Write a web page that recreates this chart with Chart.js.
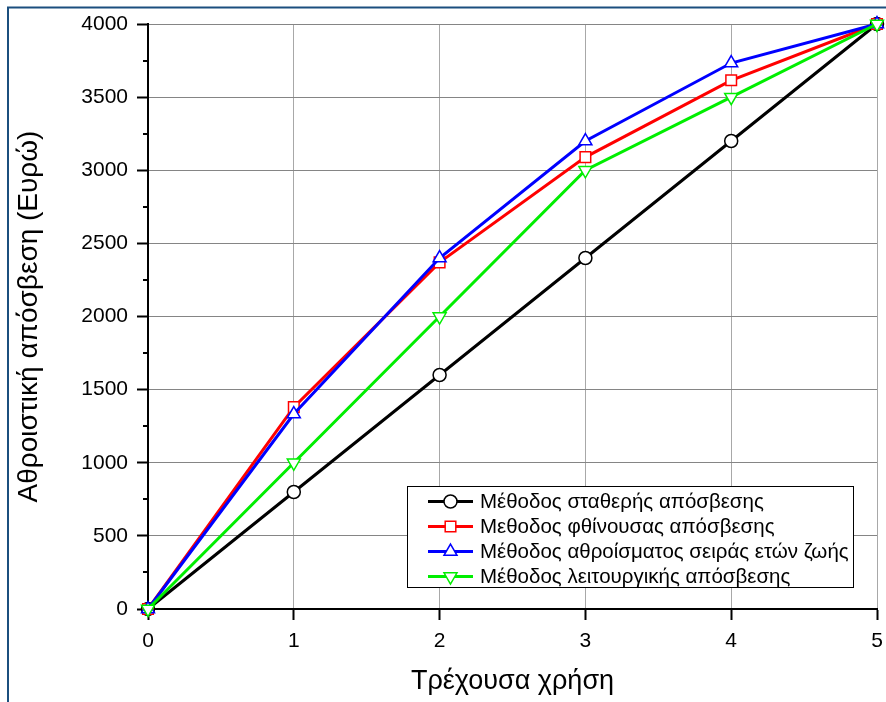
<!DOCTYPE html>
<html lang="el">
<head>
    <meta charset="UTF-8">
    <title>Αθροιστική απόσβεση</title>
    <script src="https://cdn.jsdelivr.net/npm/chart.js"></script>
    <style>
        html, body { margin: 0; padding: 0; background: #fff; }
        #wrap { width: 886px; height: 702px; }
    </style>
</head>
<body>
<div id="wrap">
    <canvas id="deprChart" width="886" height="702"></canvas>
</div>

<script>
    // years of use and cumulative depreciation per method (euros)
    const years = [0, 1, 2, 3, 4, 5];
    const straightLine = [0, 800, 1600, 2400, 3200, 4000];
    const decliningBalance = [0, 1380, 2370, 3090, 3615, 4000];
    const sumOfYears = [0, 1333, 2400, 3200, 3733, 4000];
    const unitsOfActivity = [0, 1000, 2000, 3000, 3500, 4000];

    const seriesLabels = [
        'Μέθοδος σταθερής απόσβεσης',
        'Μεθοδος φθίνουσας απόσβεσης',
        'Μέθοδος αθροίσματος σειράς ετών ζωής',
        'Μέθοδος λειτουργικής απόσβεσης'
    ];
    const seriesColors = ['#000000', '#ff0000', '#0000ff', '#00ee00'];
    const seriesPoints = ['circle', 'rect', 'triangle', 'triangle'];

    const xTicks = [0, 1, 2, 3, 4, 5];
    const yTicks = [0, 500, 1000, 1500, 2000, 2500, 3000, 3500, 4000];

    const FONT = "'Liberation Sans', Arial, sans-serif";

    function toPoints(values) {
        return years.map((yr, i) => ({ x: yr, y: values[i] }));
    }

    function makeSet(idx, values, opts) {
        return Object.assign({
            label: seriesLabels[idx],
            data: toPoints(values),
            borderColor: seriesColors[idx],
            backgroundColor: '#ffffff',
            borderWidth: 3,
            pointStyle: seriesPoints[idx],
            pointRadius: 6.5,
            pointBorderWidth: 1.5,
            pointBorderColor: seriesColors[idx],
            pointBackgroundColor: '#ffffff',
            tension: 0,
            fill: false,
            clip: false
        }, opts);
    }

    const datasets = [
        makeSet(0, straightLine, { order: 4 }),
        makeSet(1, decliningBalance, { order: 3, pointRadius: 7.5 }),
        makeSet(2, sumOfYears, { order: 2, pointRadius: 7.5 }),
        makeSet(3, unitsOfActivity, { order: 1, pointRadius: 7.5, pointRotation: 180 })
    ];

    // dark frame on the top and left edge of the figure
    const framePlugin = {
        id: 'frame',
        beforeDraw(chart) {
            const ctx = chart.ctx;
            ctx.save();
            ctx.fillStyle = '#ffffff';
            ctx.fillRect(0, 0, chart.width, chart.height);
            ctx.strokeStyle = '#1b4f7e';
            ctx.lineWidth = 2;
            ctx.beginPath();
            ctx.moveTo(8, chart.height);
            ctx.lineTo(8, 7.5);
            ctx.lineTo(chart.width, 7.5);
            ctx.stroke();
            ctx.restore();
        }
    };

    // short minor ticks between the labelled y values
    const minorTicksPlugin = {
        id: 'minorTicks',
        afterDraw(chart) {
            const ctx = chart.ctx;
            const y = chart.scales.y;
            const x0 = chart.chartArea.left;
            ctx.save();
            ctx.strokeStyle = '#000';
            ctx.lineWidth = 2;
            for (let i = 0; i < yTicks.length - 1; i++) {
                const v = (yTicks[i] + yTicks[i + 1]) / 2;
                const py = Math.round(y.getPixelForValue(v));
                ctx.beginPath();
                ctx.moveTo(x0 - 5, py);
                ctx.lineTo(x0, py);
                ctx.stroke();
            }
            ctx.restore();
        }
    };

    // boxed legend inside the plot, lower right
    const boxLegendPlugin = {
        id: 'boxLegend',
        afterDraw(chart) {
            const ctx = chart.ctx;
            const box = { left: 407, top: 486, right: 853, bottom: 587 };
            ctx.save();
            ctx.fillStyle = '#ffffff';
            ctx.fillRect(box.left, box.top, box.right - box.left, box.bottom - box.top);
            ctx.strokeStyle = '#000';
            ctx.lineWidth = 1;
            ctx.strokeRect(box.left + 0.5, box.top + 0.5, box.right - box.left, box.bottom - box.top);

            chart.data.datasets.forEach((ds, i) => {
                const cy = box.top + 15.5 + i * 25;
                ctx.strokeStyle = ds.borderColor;
                ctx.lineWidth = 3;
                ctx.beginPath();
                ctx.moveTo(428, cy);
                ctx.lineTo(473, cy);
                ctx.stroke();
                ctx.fillStyle = '#ffffff';
                ctx.strokeStyle = ds.borderColor;
                ctx.lineWidth = 1.5;
                Chart.helpers.drawPoint(ctx, {
                    pointStyle: ds.pointStyle,
                    rotation: ds.pointRotation || 0,
                    radius: ds.pointRadius,
                    borderWidth: 1.5
                }, 450.5, cy);
                ctx.fillStyle = '#000';
                ctx.font = '20.5px ' + FONT;
                ctx.textAlign = 'left';
                ctx.textBaseline = 'middle';
                ctx.fillText(ds.label, 480, cy + 1);
            });
            ctx.restore();
        }
    };

    const ctx = document.getElementById('deprChart').getContext('2d');
    const deprChart = new Chart(ctx, {
        type: 'line',
        data: { datasets: datasets },
        options: {
            responsive: false,
            animation: false,
            layout: { padding: { left: 0, top: 24, right: 0, bottom: 0 } },
            plugins: {
                legend: { display: false },
                tooltip: { enabled: false }
            },
            scales: {
                x: {
                    type: 'linear',
                    min: xTicks[0],
                    max: xTicks[xTicks.length - 1],
                    afterFit: s => {
                        s.height = 93;
                        s.paddingLeft = 0;
                        s.paddingRight = 8;
                    },
                    afterBuildTicks: s => { s.ticks = xTicks.map(v => ({ value: v })); },
                    border: { color: '#000', width: 2 },
                    grid: {
                        color: '#a8a8a8',
                        lineWidth: 1,
                        tickColor: '#000',
                        tickWidth: 2,
                        tickLength: 11
                    },
                    ticks: {
                        color: '#000',
                        padding: 9,
                        font: { family: FONT, size: 21 },
                        maxRotation: 0,
                        callback: v => String(v)
                    },
                    title: {
                        display: true,
                        text: 'Τρέχουσα χρήση',
                        color: '#000',
                        font: { family: FONT, size: 27 },
                        padding: { top: 0, bottom: 4 }
                    }
                },
                y: {
                    min: yTicks[0],
                    max: yTicks[yTicks.length - 1],
                    afterFit: s => { s.width = 148; },
                    afterBuildTicks: s => { s.ticks = yTicks.map(v => ({ value: v })); },
                    border: { color: '#000', width: 2 },
                    grid: {
                        color: '#858585',
                        lineWidth: 1,
                        tickColor: '#000',
                        tickWidth: 2,
                        tickLength: 11
                    },
                    ticks: {
                        color: '#000',
                        padding: 9,
                        font: { family: FONT, size: 21 },
                        callback: v => String(v)
                    },
                    title: {
                        display: true,
                        text: 'Αθροιστική απόσβεση (Ευρώ)',
                        color: '#000',
                        font: { family: FONT, size: 28 },
                        padding: { top: 12, bottom: 0 }
                    }
                }
            }
        },
        plugins: [framePlugin, minorTicksPlugin, boxLegendPlugin]
    });
</script>
</body>
</html>
